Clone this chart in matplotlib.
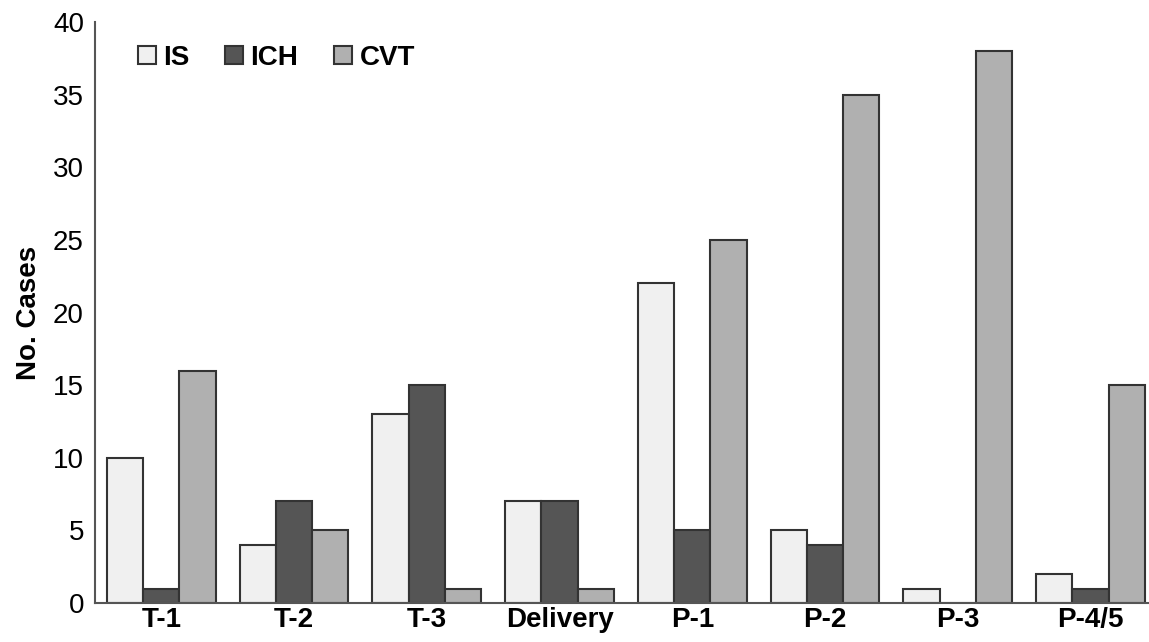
import numpy as np
import matplotlib
matplotlib.use("Agg")
import matplotlib.pyplot as plt

plt.rcParams['font.family'] = ['Liberation Sans', 'DejaVu Sans']

# Dados
categorias = ["T-1", "T-2", "T-3", "Delivery", "P-1", "P-2", "P-3", "P-4/5"]
is_vals = [10, 4, 13, 7, 22, 5, 1, 2]
ich_vals = [1, 7, 15, 7, 5, 4, 0, 1]
cvt_vals = [16, 5, 1, 1, 25, 35, 38, 15]

x = np.arange(len(categorias))
w = 0.273

fig = plt.figure(figsize=(11.49, 6.42), dpi=100)
ax = fig.add_axes([0.0827, 0.0607, 0.916, 0.905])

edge = "#333333"
ax.bar(x - w, is_vals, w, color="#f0f0f0", edgecolor=edge, linewidth=1.5, label="IS")
ax.bar(x, ich_vals, w, color="#555555", edgecolor=edge, linewidth=1.5, label="ICH")
ax.bar(x + w, cvt_vals, w, color="#b0b0b0", edgecolor=edge, linewidth=1.5, label="CVT")

ax.set_ylim(0, 40)
ax.set_xlim(-0.5, 7.43)
ax.set_yticks(range(0, 41, 5))
ax.set_xticks(x)
ax.set_xticklabels(categorias, fontweight="bold")
ax.tick_params(axis="both", length=0, labelsize=20)
ax.tick_params(axis="y", pad=8)
ax.tick_params(axis="x", pad=3)
ax.set_ylabel("No. Cases", fontsize=20, fontweight="bold", labelpad=8)

for s in ["top", "right"]:
    ax.spines[s].set_visible(False)
for s in ["left", "bottom"]:
    ax.spines[s].set_color("#555555")
    ax.spines[s].set_linewidth(1.5)

leg = ax.legend(loc="upper left", bbox_to_anchor=(0.017, 1.004), ncol=3, frameon=False,
                prop={"weight": "bold", "size": 20}, handlelength=0.65, handleheight=0.6,
                handletextpad=0.25, columnspacing=1.3)

fig.savefig("out.png", dpi=100)
